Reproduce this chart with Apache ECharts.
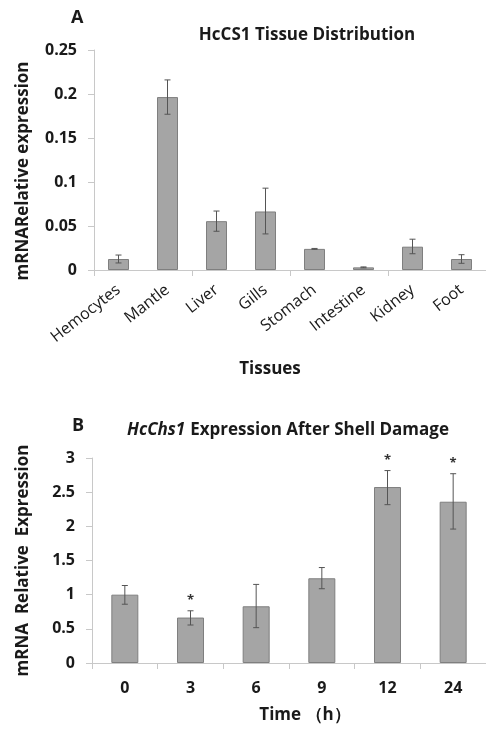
<!DOCTYPE html>
<html><head><meta charset="utf-8">
<script src="https://cdn.jsdelivr.net/npm/echarts@6/dist/echarts.min.js"></script>
<style>html,body{margin:0;padding:0;background:#fff}
#wrap{position:relative;width:486px;height:729px}
#ca,#cl{position:absolute;left:0;top:0;width:486px;height:400px}
#cl{pointer-events:none}
#cb{position:absolute;left:0;top:400px;width:486px;height:329px}</style>
</head><body><div id="wrap"><div id="ca"></div><div id="cl"></div><div id="cb"></div></div>
<script>
const tissues = ['Hemocytes','Mantle','Liver','Gills','Stomach','Intestine','Kidney','Foot'];
const tissueMean = [0.0125, 0.1965, 0.0555, 0.0665, 0.024, 0.003, 0.0265, 0.0125];
const tissueErrLow = [0.008, 0.177, 0.044, 0.041, 0.0235, 0.0025, 0.0185, 0.0076];
const tissueErrHigh = [0.017, 0.216, 0.067, 0.093, 0.0245, 0.0035, 0.035, 0.0174];
const timeCats = ['0','3','6','9','12','24'];
const timeMean = [1.0, 0.665, 0.83, 1.24, 2.575, 2.36];
const timeErrLow = [0.86, 0.556, 0.517, 1.087, 2.317, 1.96];
const timeErrHigh = [1.134, 0.764, 1.15, 1.397, 2.816, 2.77];
const timeSig = [false, true, false, false, true, true];

const FONT = 'Open Sans';
const TXT = '#1a1a1a';
const AX = '#c8c8c8';
const GRID_A = {left: 94, top: 50, width: 396, height: 220};

function errSeries(lo, hi, sig, cap) {
  return {
    type: 'custom', z: 5,
    data: lo.map((v, i) => [i, v, hi[i], sig ? (sig[i] ? 1 : 0) : 0]),
    renderItem: function (params, api) {
      const x = api.coord([api.value(0), 0])[0];
      const yl = api.coord([0, api.value(1)])[1];
      const yh = api.coord([0, api.value(2)])[1];
      const st = {stroke: '#555', lineWidth: 1};
      const ch = [
        {type: 'line', shape: {x1: x, y1: yl, x2: x, y2: yh}, style: st},
        {type: 'line', shape: {x1: x - cap, y1: yl, x2: x + cap, y2: yl}, style: st},
        {type: 'line', shape: {x1: x - cap, y1: yh, x2: x + cap, y2: yh}, style: st}
      ];
      if (api.value(3)) {
        ch.push({type: 'text', x: x, y: yh - 10, style: {text: '*', align: 'center', verticalAlign: 'middle', font: 'bold 13px "Open Sans"', fill: '#333'}});
      }
      return {type: 'group', children: ch};
    }
  };
}

const chartA = echarts.init(document.getElementById('ca'));
chartA.setOption({
  animation: false,
  title: [
    {text: 'A', left: 66, top: 4, textStyle: {fontFamily: FONT, fontSize: 18, fontWeight: 'bold', color: TXT}},
    {text: 'HcCS1 Tissue Distribution', left: 302, top: 22, textAlign: 'center', textStyle: {fontFamily: FONT, fontSize: 17, fontWeight: 'bold', color: TXT}}
  ],
  grid: GRID_A,
  xAxis: {type: 'category', data: tissues,
    axisLine: {lineStyle: {color: AX}}, axisTick: {show: true, length: 6, lineStyle: {color: AX}},
    axisLabel: {show: false},
    name: 'Tissues', nameLocation: 'middle', nameGap: 91,
    nameTextStyle: {fontFamily: FONT, fontSize: 17, fontWeight: 'bold', color: TXT, padding: [0, 40, 0, 0]}},
  yAxis: {type: 'value', min: 0, max: 0.25, interval: 0.05,
    axisLine: {show: true, lineStyle: {color: AX}}, axisTick: {show: true, length: 6, lineStyle: {color: AX}},
    splitLine: {show: false},
    axisLabel: {margin: 17, fontFamily: FONT, fontSize: 16, fontWeight: 'bold', color: TXT, formatter: v => String(+v.toFixed(2))},
    name: 'mRNARelative expression', nameLocation: 'middle', nameGap: 62,
    nameTextStyle: {fontFamily: FONT, fontSize: 17, fontWeight: 'bold', color: TXT, padding: [0, 0, 0, -22]}},
  series: [
    {type: 'bar', data: tissueMean, barWidth: 21, itemStyle: {color: '#a5a5a5', borderColor: '#7f7f7f', borderWidth: 1}},
    errSeries(tissueErrLow, tissueErrHigh, null, 3)
  ]
});

// same category axis on the same grid, used only for its rotated tick labels
const chartL = echarts.init(document.getElementById('cl'));
chartL.setOption({
  animation: false,
  grid: GRID_A,
  xAxis: {type: 'category', data: tissues,
    axisLine: {show: false}, axisTick: {show: false},
    axisLabel: {rotate: 38, margin: 18, interval: 0, fontSize: 16, color: TXT, fontFamily: FONT}},
  yAxis: {type: 'value', min: 0, max: 0.25, show: false},
  series: [{type: 'bar', data: tissueMean, barWidth: 21, itemStyle: {opacity: 0}, silent: true}]
});

const chartB = echarts.init(document.getElementById('cb'));
chartB.setOption({
  animation: false,
  title: [
    {text: 'B', left: 67, top: 12, textStyle: {fontFamily: FONT, fontSize: 18, fontWeight: 'bold', color: TXT}},
    {text: '{i|HcChs1} {n|Expression After Shell Damage}', left: 283, top: 16, textAlign: 'center',
     textStyle: {rich: {i: {fontFamily: FONT, fontSize: 17, fontWeight: 'bold', fontStyle: 'italic', color: TXT}, n: {fontFamily: FONT, fontSize: 17, fontWeight: 'bold', color: TXT}}}}
  ],
  grid: {left: 92, top: 58, width: 399, height: 210},
  xAxis: {type: 'category', data: timeCats,
    axisLine: {lineStyle: {color: AX}}, axisTick: {show: true, length: 6, lineStyle: {color: AX}},
    axisLabel: {margin: 17, fontFamily: FONT, fontSize: 16, fontWeight: 'bold', color: TXT},
    name: 'Time （h）', nameLocation: 'middle', nameGap: 44,
    nameTextStyle: {fontFamily: FONT, fontSize: 17, fontWeight: 'bold', color: TXT, padding: [0, 0, 0, 32]}},
  yAxis: {type: 'value', min: 0, max: 3, interval: 0.5,
    axisLine: {show: true, lineStyle: {color: AX}}, axisTick: {show: true, length: 6, lineStyle: {color: AX}},
    splitLine: {show: false},
    axisLabel: {margin: 17, fontFamily: FONT, fontSize: 16, fontWeight: 'bold', color: TXT},
    name: 'mRNA  Relative  Expression', nameLocation: 'middle', nameGap: 60,
    nameTextStyle: {fontFamily: FONT, fontSize: 17, fontWeight: 'bold', color: TXT}},
  series: [
    {type: 'bar', data: timeMean, barWidth: 27, itemStyle: {color: '#a5a5a5', borderColor: '#7f7f7f', borderWidth: 1}},
    errSeries(timeErrLow, timeErrHigh, timeSig, 3)
  ]
});
</script></body></html>
